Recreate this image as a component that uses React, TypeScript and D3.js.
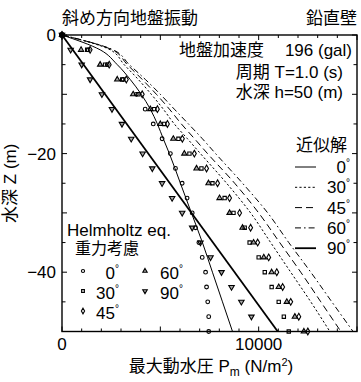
import React from 'react';
import * as d3 from 'd3';

const W = 361;
const H = 382;

// Helmholtz equation with gravity: sampled depths (m) and peak pressures (N/m^2)
const depthPts = [0, -2.5, -5, -7.5, -10, -12.5, -15, -17.5, -20, -22.5, -25, -27.5, -30, -32.5, -35, -37.5, -40, -42.5, -45, -47.5, -50];
const p0 = [0, 1330, 2300, 3110, 3780, 4230, 4640, 5090, 5510, 5770, 6110, 6360, 6620, 6790, 6960, 7130, 7300, 7350, 7410, 7460, 7460];
const p30 = [0, 1280, 2190, 3060, 3880, 4690, 5200, 5920, 6480, 7090, 7650, 8270, 8720, 9290, 9540, 10000, 10310, 10660, 11020, 11280, 11530];
const p45 = [0, 1430, 2400, 3270, 4080, 4850, 5360, 6120, 6730, 7350, 7910, 8520, 9030, 9590, 9950, 10510, 10920, 11220, 11630, 12040, 12500];
const p60 = [0, 970, 1940, 2810, 3620, 4490, 5000, 5660, 6220, 6840, 7450, 8010, 8520, 9180, 9740, 10260, 10660, 11020, 11430, 11840, 12300];
const p90 = [0, 440, 1000, 1430, 2030, 2540, 3050, 3520, 4100, 4590, 5090, 5600, 6110, 6620, 7040, 7550, 8110, 8620, 9120, 9630];

// Approximate solutions
const lineDepths = [0, -2.5, -5, -7.5, -10, -12.5, -15, -17.5, -20, -25, -30, -35, -40, -45, -50];
const a0 = [0, 1940, 2810, 3470, 4030, 4490, 4850, 5150, 5460, 6020, 6580, 7140, 7650, 8160, 8670];
const a30 = [0, 2450, 3160, 3880, 4540, 5150, 5710, 6380, 7040, 8370, 9590, 10610, 11630, 12650, 13620];
const a45 = [0, 2550, 3320, 4080, 4800, 5460, 6070, 6740, 7400, 8780, 10000, 11070, 12140, 13160, 14180];
const a60 = [0, 2600, 3420, 4240, 5000, 5710, 6430, 7140, 7810, 9180, 10460, 11530, 12650, 13720, 14800];
const a90Depths = [0, -50];
const a90 = [0, 10970];

const xTickLabels = [0, 10000];
const yTickLabels = [0, -20, -40];
const angleLabels = ['0', '30', '45', '60', '90'];

const FONT = "'Liberation Sans', Arial, 'Noto Sans CJK JP', sans-serif";

const left = 62, right = 357, top = 35, bottom = 331.5;
const x = d3.scaleLinear().domain([0, 15000]).range([left, right]);
const y = d3.scaleLinear().domain([0, -50]).range([top, bottom]);

type Style = { dash?: string; width: number };
const lineStyles: Style[] = [
  { width: 1 },
  { dash: '2.2,2.2', width: 1 },
  { dash: '7,4', width: 1 },
  { dash: '6,3,1.6,3', width: 1 },
  { width: 1.8 },
];

const symbolTypes = [d3.symbolCircle, d3.symbolSquare, d3.symbolDiamond, d3.symbolTriangle, d3.symbolTriangle];
const symbolSizes = [11, 11, 13, 12, 13];
const symbolRot = [0, 0, 0, 0, 180];

function Marker({ k, cx, cy, scale = 1 }: { k: number; cx: number; cy: number; scale?: number }) {
  const path = d3.symbol().type(symbolTypes[k]).size(symbolSizes[k] * scale)() || '';
  return (
    <path
      d={path}
      transform={`translate(${cx},${cy}) rotate(${symbolRot[k]})`}
      fill={k >= 3 ? '#000' : 'none'}
      fillOpacity={k >= 3 ? 0.35 : 1}
      stroke="#000"
      strokeWidth={1.1}
    />
  );
}

function Deg({ label, x0, y0 }: { label: string; x0: number; y0: number }) {
  return (
    <text x={x0} y={y0} fontSize={17} textAnchor="end">
      {label}
      <tspan fontSize={10} dy={-7}>°</tspan>
    </text>
  );
}

export default function App() {
  const lineGen = d3
    .line<[number, number]>()
    .x((d) => x(d[0]))
    .y((d) => y(d[1]))
    .curve(d3.curveMonotoneY);

  const approx: [number[], number[]][] = [
    [a0, lineDepths],
    [a30, lineDepths],
    [a45, lineDepths],
    [a60, lineDepths],
    [a90, a90Depths],
  ];
  const measured = [p0, p30, p45, p60, p90];

  const xMinor = d3.range(0, 15001, 1000);
  const yMinor = d3.range(0, -50.1, -5);

  return (
    <svg
      width={W}
      height={H}
      style={{ position: 'absolute', left: 0, top: 0, background: '#fff' }}
      fontFamily={FONT}
    >
      <rect x={0} y={0} width={W} height={H} fill="#fff" />

      {/* approximate-solution curves */}
      {approx.map(([vals, deps], i) => (
        <path
          key={'l' + i}
          d={lineGen(vals.map((v, j) => [v, deps[j]] as [number, number])) || ''}
          fill="none"
          stroke="#000"
          strokeWidth={lineStyles[i].width}
          strokeDasharray={lineStyles[i].dash}
        />
      ))}

      {/* Helmholtz results */}
      {measured.map((vals, k) =>
        vals.map((v, j) => <Marker key={`m${k}-${j}`} k={k} cx={x(v)} cy={y(depthPts[j])} />)
      )}
      <circle cx={x(0)} cy={y(0)} r={3} fill="#000" />

      {/* frame */}
      <rect x={left} y={top} width={right - left} height={bottom - top} fill="none" stroke="#000" strokeWidth={1.4} />

      {/* ticks */}
      {xMinor.map((t) => {
        const len = t % 5000 === 0 ? 5 : 3;
        return (
          <g key={'xt' + t}>
            <line x1={x(t)} x2={x(t)} y1={bottom} y2={bottom - len} stroke="#000" strokeWidth={1} />
            <line x1={x(t)} x2={x(t)} y1={top} y2={top + len} stroke="#000" strokeWidth={1} />
          </g>
        );
      })}
      {yMinor.map((t) => {
        const len = t % 10 === 0 ? 5 : 3.5;
        return (
          <g key={'yt' + t}>
            <line x1={left} x2={left + len} y1={y(t)} y2={y(t)} stroke="#000" strokeWidth={1} />
            <line x1={right} x2={right - len} y1={y(t)} y2={y(t)} stroke="#000" strokeWidth={1} />
          </g>
        );
      })}

      {/* tick labels */}
      {xTickLabels.map((t) => (
        <text key={'xl' + t} x={x(t)} y={350} fontSize={17} textAnchor="middle">
          {t}
        </text>
      ))}
      {yTickLabels.map((t) => (
        <text key={'yl' + t} x={56} y={y(t) + 6} fontSize={17} textAnchor="end">
          {t === 0 ? '0' : '\u2212' + Math.abs(t)}
        </text>
      ))}

      {/* axis titles */}
      <text x={211} y={372} fontSize={17} textAnchor="middle">
        最大動水圧 P
        <tspan fontSize={12} dy={4}>m</tspan>
        <tspan dy={-4}> (N/m</tspan>
        <tspan fontSize={11} dy={-6}>2</tspan>
        <tspan dy={6}>)</tspan>
      </text>
      <text transform={`translate(16,${(top + bottom) / 2}) rotate(-90)`} fontSize={17} textAnchor="middle">
        水深 Z (m)
      </text>

      {/* headings */}
      <text x={62} y={24} fontSize={17}>斜め方向地盤振動</text>
      <text x={357} y={24} fontSize={17} textAnchor="end">鉛直壁</text>

      {/* conditions */}
      <text x={179} y={56} fontSize={17}>地盤加速度</text>
      <text x={352} y={56} fontSize={17} textAnchor="end">196 (gal)</text>
      <text x={343} y={78} fontSize={17} textAnchor="end">周期 T=1.0 (s)</text>
      <text x={343} y={98} fontSize={17} textAnchor="end">水深 h=50 (m)</text>

      {/* approximate-solution legend */}
      <text x={296} y={151} fontSize={17}>近似解</text>
      {angleLabels.map((lab, i) => {
        const ly = 167 + i * 20.3;
        return (
          <g key={'al' + i}>
            <line
              x1={295}
              x2={316}
              y1={ly}
              y2={ly}
              stroke="#000"
              strokeWidth={lineStyles[i].width}
              strokeDasharray={lineStyles[i].dash}
            />
            <Deg label={lab} x0={350} y0={ly + 6} />
          </g>
        );
      })}

      {/* Helmholtz legend */}
      <text x={67} y={236} fontSize={17}>Helmholtz eq.</text>
      <text x={75} y={254} fontSize={16}>重力考慮</text>
      {angleLabels.map((lab, i) => {
        const col = i < 3 ? 0 : 1;
        const row = i < 3 ? i : i - 3;
        const ly = 273 + row * 20;
        const mx = col === 0 ? 83 : 145;
        const tx = col === 0 ? 119 : 183;
        return (
          <g key={'hl' + i}>
            <Marker k={i} cx={mx} cy={ly - 2} scale={0.7} />
            <Deg label={lab} x0={tx} y0={ly + 6} />
          </g>
        );
      })}
    </svg>
  );
}
